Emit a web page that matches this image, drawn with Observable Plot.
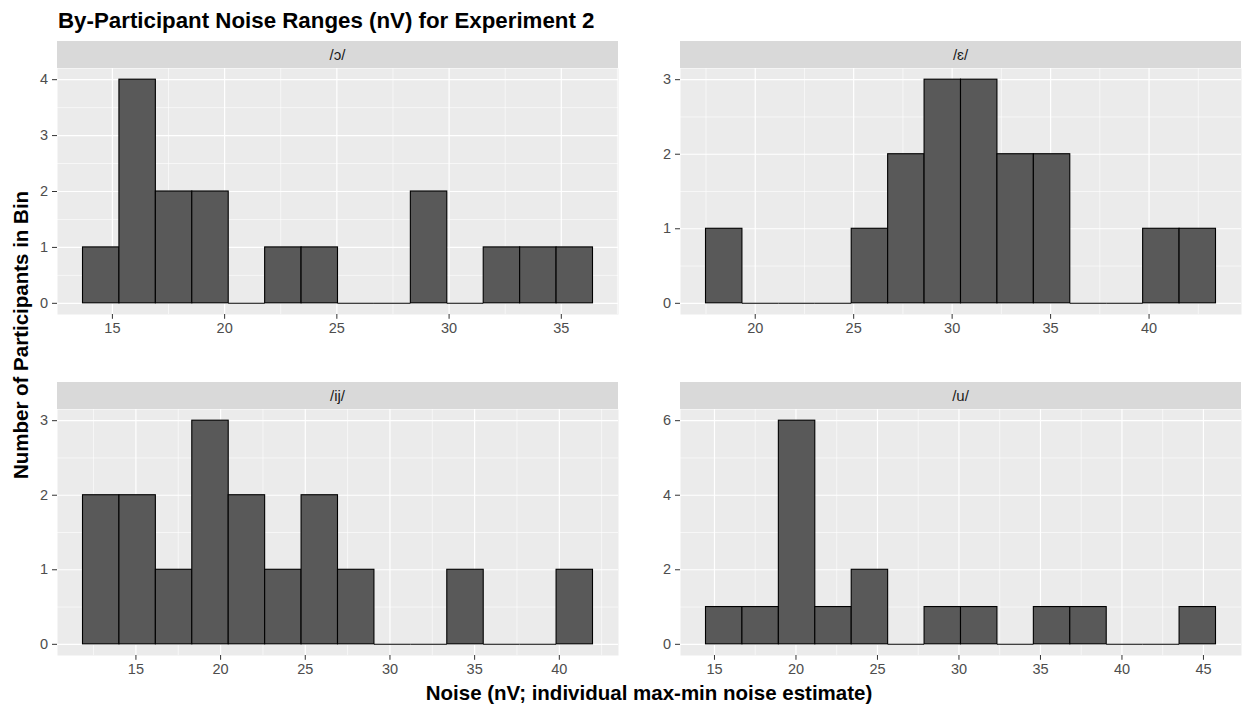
<!DOCTYPE html>
<html>
<head>
<meta charset="utf-8">
<script src="https://cdn.jsdelivr.net/npm/d3@7"></script>
<script src="https://cdn.jsdelivr.net/npm/@observablehq/plot@0.6"></script>
<style>
  html, body { margin: 0; padding: 0; background: #fff; }
  #chart { position: relative; width: 1252px; height: 709px; background: #fff; font-family: "Liberation Sans", Arial, Helvetica, sans-serif; }
  #chart > .panel { position: absolute; }
  #chart > .panel text { font-size: 14.5px !important; }
  #overlay { position: absolute; left: 0; top: 0; }
</style>
</head>
<body>
<div id="chart"></div>
<script>
// ---- Data ----
const titleText = "By-Participant Noise Ranges (nV) for Experiment 2";
const xTitle = "Noise (nV; individual max-min noise estimate)";
const yTitle = "Number of Participants in Bin";

const vowels = ["/ɔ/", "/ɛ/", "/ij/", "/u/"];

// left edge of first bin and bin width for each facet
const binStarts = [13.69, 17.5, 11.875, 14.48];
const binWidths = [1.623, 1.85, 2.151, 2.235];

// counts per bin (14 bins per facet)
const countsO  = [1, 4, 2, 2, 0, 1, 1, 0, 0, 2, 0, 1, 1, 1];
const countsE  = [1, 0, 0, 0, 1, 2, 3, 3, 2, 2, 0, 0, 1, 1];
const countsIJ = [2, 2, 1, 3, 2, 1, 2, 1, 0, 0, 1, 0, 0, 1];
const countsU  = [1, 1, 6, 1, 2, 0, 1, 1, 0, 1, 1, 0, 0, 1];
const allCounts = [countsO, countsE, countsIJ, countsU];

// tick values
const xTicks = [
  [15, 20, 25, 30, 35],
  [20, 25, 30, 35, 40],
  [15, 20, 25, 30, 35, 40],
  [15, 20, 25, 30, 35, 40, 45]
];
const yTicks = [
  [0, 1, 2, 3, 4],
  [0, 1, 2, 3],
  [0, 1, 2, 3],
  [0, 2, 4, 6]
];

// ---- Layout ----
const panelW = 561, panelH = 246;
const panelLefts = [57, 680, 57, 680];
const panelTops = [68, 68, 409, 409];
const stripH = 27;
const FONT = '"Liberation Sans", Arial, Helvetica, sans-serif';
const fmt = d3.format("d");

const chart = document.getElementById("chart");

function midpoints(ticks, lo, hi) {
  const step = ticks[1] - ticks[0];
  const out = [];
  for (let v = ticks[0] - step / 2; v <= hi; v += step) {
    if (v >= lo) out.push(v);
  }
  return out;
}

allCounts.forEach((counts, i) => {
  const bins = counts.map((c, j) => ({
    x1: binStarts[i] + j * binWidths[i],
    x2: binStarts[i] + (j + 1) * binWidths[i],
    count: c
  }));
  const lo = bins[0].x1, hi = bins[bins.length - 1].x2;
  const pad = (hi - lo) * 0.05;
  const xDom = [lo - pad, hi + pad];
  const yMax = d3.max(counts);
  const yDom = [-yMax * 0.05, yMax * 1.05];
  const xMinor = midpoints(xTicks[i], xDom[0], xDom[1]);
  const yMinor = midpoints(yTicks[i], yDom[0], yDom[1]);
  const mL = 40, mB = 30;
  const plot = Plot.plot({
    width: panelW + mL,
    height: panelH + mB,
    marginLeft: mL, marginRight: 0, marginTop: 0, marginBottom: mB,
    x: { domain: xDom },
    y: { domain: yDom },
    style: { fontFamily: FONT, fontSize: "14.5px", background: "transparent", overflow: "visible" },
    marks: [
      Plot.frame({ fill: "#EBEBEB", stroke: "none" }),
      Plot.gridX({ ticks: xMinor, stroke: "white", strokeOpacity: 1, strokeWidth: 0.6 }),
      Plot.gridY({ ticks: yMinor, stroke: "white", strokeOpacity: 1, strokeWidth: 0.6 }),
      Plot.gridX({ ticks: xTicks[i], stroke: "white", strokeOpacity: 1, strokeWidth: 1.2 }),
      Plot.gridY({ ticks: yTicks[i], stroke: "white", strokeOpacity: 1, strokeWidth: 1.2 }),
      Plot.rectY(bins.filter(d => d.count > 0), { x1: "x1", x2: "x2", y1: 0, y2: "count", fill: "#595959", stroke: "black", strokeWidth: 1.1 }),
      Plot.ruleY(bins.filter(d => d.count === 0), { x1: "x1", x2: "x2", y: 0, stroke: "black", strokeWidth: 1.1 }),
      Plot.axisX({ ticks: xTicks[i], tickFormat: fmt, tickSize: 4.8, tickPadding: 3.5, stroke: "#333333", fill: "#4D4D4D", label: null, fontSize: 14.5 }),
      Plot.axisY({ ticks: yTicks[i], tickFormat: fmt, tickSize: 5, tickPadding: 4.5, stroke: "#333333", fill: "#4D4D4D", label: null, fontSize: 14.5 })
    ]
  });
  plot.classList.add("panel");
  plot.style.left = (panelLefts[i] - mL) + "px";
  plot.style.top = panelTops[i] + "px";
  chart.appendChild(plot);
});

// ---- Overlay: title, strips, axis titles ----
const svg = d3.create("svg")
  .attr("id", "overlay")
  .attr("width", 1252).attr("height", 709)
  .style("font-family", FONT)
  .style("pointer-events", "none");

svg.append("text")
  .attr("x", 58).attr("y", 28)
  .attr("font-size", 22.3).attr("font-weight", "bold").attr("fill", "#000")
  .text(titleText);

vowels.forEach((v, i) => {
  const g = svg.append("g");
  g.append("rect")
    .attr("x", panelLefts[i]).attr("y", panelTops[i] - stripH)
    .attr("width", panelW).attr("height", stripH)
    .attr("fill", "#D9D9D9");
  g.append("text")
    .attr("x", panelLefts[i] + panelW / 2).attr("y", panelTops[i] - stripH / 2)
    .attr("dy", "0.35em")
    .attr("text-anchor", "middle")
    .attr("font-size", 15).attr("fill", "#1A1A1A")
    .text(v);
});

svg.append("text")
  .attr("x", 649).attr("y", 700)
  .attr("text-anchor", "middle")
  .attr("font-size", 20.5).attr("font-weight", "bold").attr("fill", "#000")
  .text(xTitle);

svg.append("text")
  .attr("transform", "translate(28,335) rotate(-90)")
  .attr("text-anchor", "middle")
  .attr("font-size", 20.5).attr("font-weight", "bold").attr("fill", "#000")
  .text(yTitle);

chart.appendChild(svg.node());
</script>
</body>
</html>
